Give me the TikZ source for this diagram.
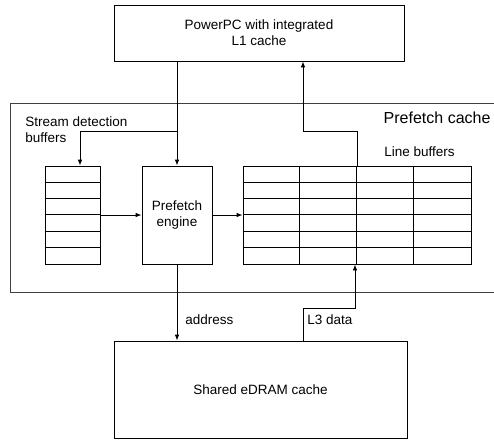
\documentclass[tikz,border=0pt]{standalone}
\usepackage{fontspec}
\setmainfont{Liberation Sans}
\usetikzlibrary{arrows.meta}
\begin{document}
\begin{tikzpicture}[x=1pt, y=-1pt, line width=0.8pt,
  every node/.style={font=\fontsize{13.5}{16}\selectfont},
  box/.style={draw, inner sep=0pt, align=center},
  arr/.style={-{Latex[length=6pt,width=4.5pt]}}]
  \useasboundingbox (0,0) rectangle (494,440);
  \node[box,minimum width=290pt,minimum height=56pt] (ppc) at (259,33) {PowerPC with integrated\\L1 cache};
  \draw[black!75] (505,103) -- (10,103) -- (10,292) -- (505,292);
  \node[font=\fontsize{16}{18}\selectfont,anchor=west] (pfname) at (380,118) {Prefetch cache};
  \node[anchor=north west,align=left,inner sep=0pt] (sdbname) at (25,116) {Stream detection\\buffers};
  \node[anchor=west,inner sep=0pt] (lbname) at (384,152) {Line buffers};
  % stream detection buffers
  \node[box,minimum width=55pt,minimum height=98pt] (sdb) at (72.5,215) {};
  \foreach \i in {1,...,5}
    \draw (sdb.north west) ++(0,\i*16.33) -- ++(55,0);
  \node[box,minimum width=70pt,minimum height=98pt] (engine) at (177,215) {Prefetch\\engine};
  % line buffers
  \node[box,minimum width=228pt,minimum height=98pt] (lbuf) at (357,215) {};
  \foreach \i in {1,...,5}
    \draw (lbuf.north west) ++(0,\i*16.33) -- ++(228,0);
  \foreach \j in {1,2,3}
    \draw ([xshift=\j*57pt]lbuf.north west) -- ([xshift=\j*57pt]lbuf.south west);
  \node[box,minimum width=293pt,minimum height=97pt] (edram) at (260.5,389.5) {Shared eDRAM cache};
  \coordinate (split) at (177,131);
  \coordinate (upturn) at (303,131);
  \coordinate (l3turn) at (303,308);
  \draw[arr] (ppc.south -| engine.north) -- (engine.north);
  \draw[arr] (split) -| ([xshift=7.5pt]sdb.north);
  \draw[arr] (sdb) -- (engine);
  \draw[arr] (engine) -- (lbuf);
  \draw[arr] (lbuf.north) |- (upturn) -- (upturn |- ppc.south);
  \draw[arr] (engine.south) -- (engine.south |- edram.north);
  \draw[arr] (l3turn |- edram.north) -- (l3turn) -| ([xshift=-2pt]lbuf.south);
  \node[anchor=west,inner sep=0pt] (addr) at (185,320) {address};
  \node[anchor=west,inner sep=0pt] (l3) at (307,320) {L3 data};
\end{tikzpicture}
\end{document}
